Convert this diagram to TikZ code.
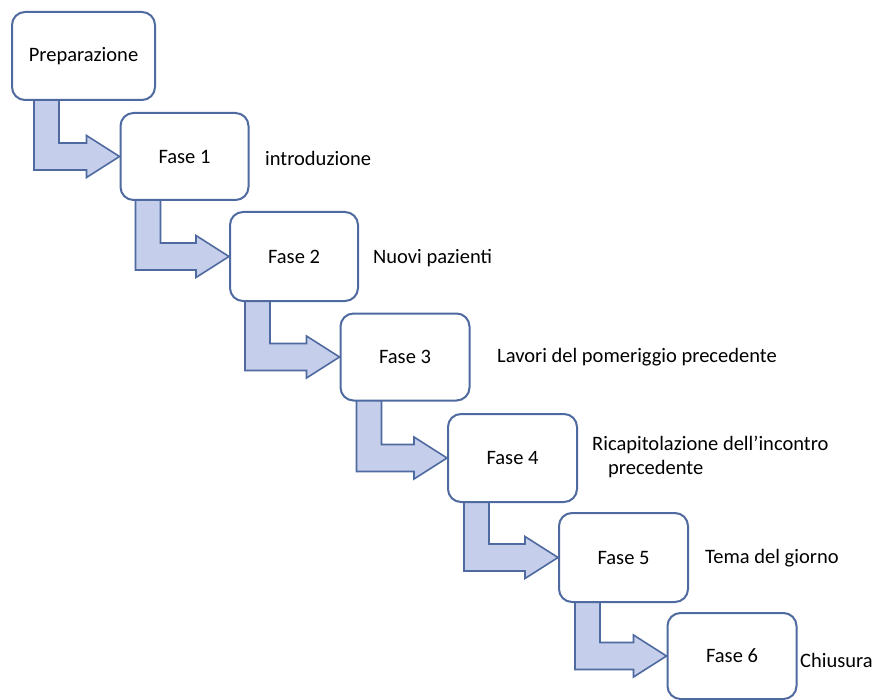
\documentclass[tikz,border=0pt]{standalone}
\usepackage{fontspec}
\setmainfont{Carlito}
\usetikzlibrary{calc,backgrounds}
\definecolor{boxblue}{HTML}{4F6AA0}
\definecolor{arrfill}{HTML}{C5CEEA}
\definecolor{arrline}{HTML}{4F6AA0}
\newcommand\stairarrow[3]{%
  \filldraw[arrowsty] let \p1=(#1.south west), \p2=(#2.west) in
   (\x1+#3,\y1+5pt) -- (\x1+#3,\y2-13.5pt) -- (\x2-33pt,\y2-13.5pt) -- (\x2-33pt,\y2-21pt)
   -- (\x2,\y2) -- (\x2-33pt,\y2+21pt) -- (\x2-33pt,\y2+13.5pt) -- (\x1+#3+25pt,\y2+13.5pt)
   -- (\x1+#3+25pt,\y1+5pt) -- cycle;}
\begin{document}
\begin{tikzpicture}[x=1pt,y=-1pt,
  phase/.style={draw=boxblue, line width=2pt, fill=white, rounded corners=13pt,
    minimum width=128pt, minimum height=87pt, inner sep=0pt, font=\fontsize{20.5}{24}\selectfont},
  arrowsty/.style={fill=arrfill, draw=arrline, line width=1.6pt, line join=miter},
  lbl/.style={anchor=west, inner sep=0pt, align=left, font=\fontsize{20.5}{24}\selectfont}]
\useasboundingbox (0,0) rectangle (877,700);
\node[phase, minimum width=143pt, minimum height=88pt] (p) at (83.5,56) {Preparazione};
\node[phase] (f1) at (184.5,156.5) {Fase 1};
\node[phase, minimum height=89pt] (f2) at (294,256.5) {Fase 2};
\node[phase, minimum width=129pt] (f3) at (405,357) {Fase 3};
\node[phase, minimum width=129pt, minimum height=88pt] (f4) at (512.5,458) {Fase 4};
\node[phase, minimum width=129pt, minimum height=89pt] (f5) at (623.5,557.5) {Fase 5};
\node[phase, minimum width=129pt, minimum height=86pt] (f6) at (732,656) {Fase 6};
\begin{scope}[on background layer]
\fill[white] (0,0) rectangle (877,700);
\stairarrow{p}{f1}{23pt}
\stairarrow{f1}{f2}{16pt}
\stairarrow{f2}{f3}{16pt}
\stairarrow{f3}{f4}{17pt}
\stairarrow{f4}{f5}{17pt}
\stairarrow{f5}{f6}{17pt}
\end{scope}
\node[lbl] (l1) at (265,158) {introduzione};
\node[lbl] (l2) at (373,258) {Nuovi pazienti};
\node[lbl] (l3) at (497,357) {Lavori del pomeriggio precedente};
\node[lbl] (l4) at (592,457) {Ricapitolazione dell’incontro\\\hspace*{16pt}precedente};
\node[lbl] (l5) at (705,558) {Tema del giorno};
\node[lbl] (l6) at (800,660) {Chiusura};
\end{tikzpicture}
\end{document}
